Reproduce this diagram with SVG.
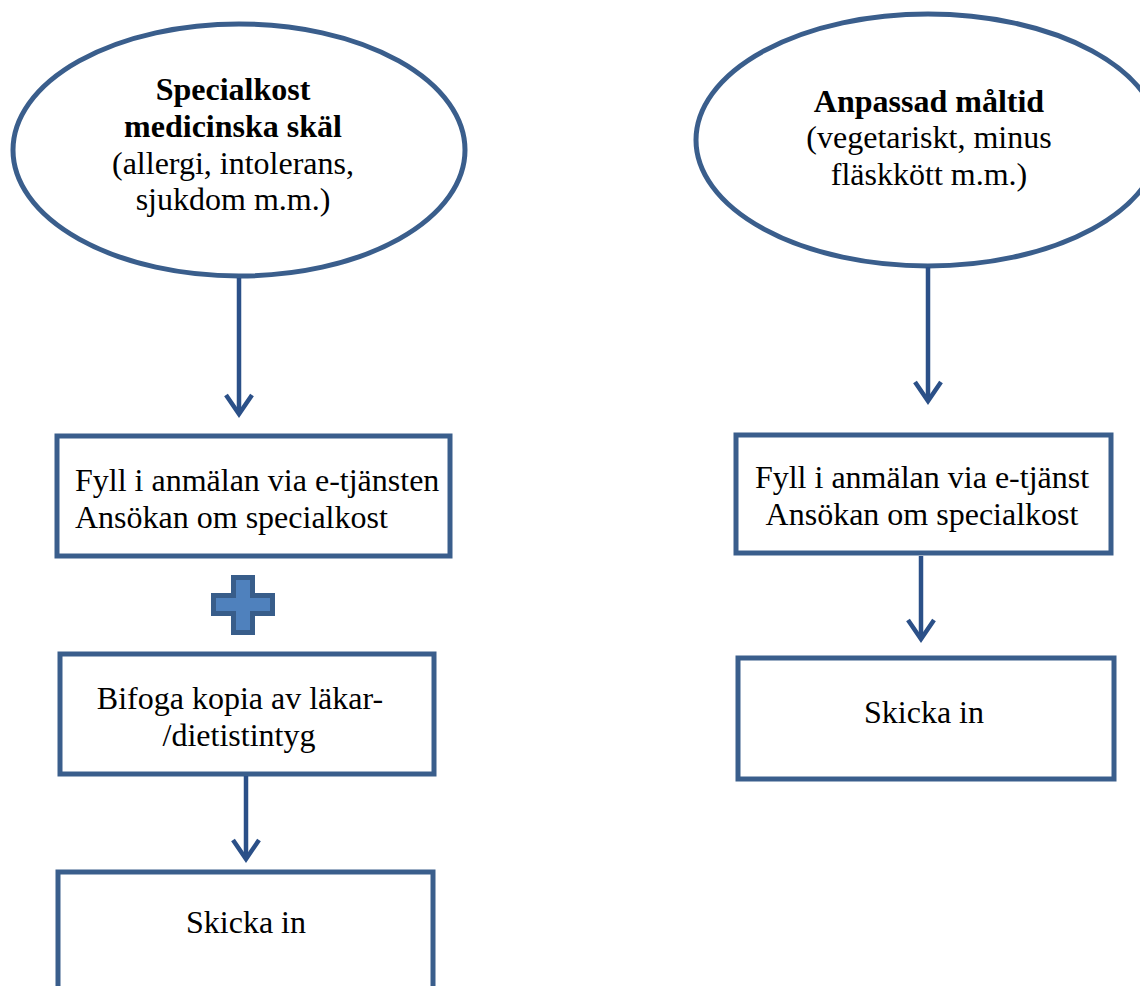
<svg xmlns="http://www.w3.org/2000/svg" width="1140" height="986" viewBox="0 0 1140 986">
<style>
.shape{fill:#fff;stroke:#3A5E8C;stroke-width:5}
.t{font-family:"Liberation Serif","Times New Roman",serif;font-size:32px;fill:#000}
.c{text-anchor:middle}
.b{font-weight:bold}
.conn line{stroke:#2B5088;stroke-width:4.5}
.conn path{fill:none;stroke:#2B5088;stroke-width:4.5;stroke-linejoin:miter;stroke-linecap:butt}
</style>
<rect width="1140" height="986" fill="#fff"/>
<g id="n-special">
<ellipse class="shape" cx="239" cy="150" rx="226" ry="126" stroke-width="4.5"/>
<text class="t c b" x="233" y="100">Specialkost</text>
<text class="t c b" x="233" y="137">medicinska skäl</text>
<text class="t c" x="233" y="174">(allergi, intolerans,</text>
<text class="t c" x="233" y="210">sjukdom m.m.)</text>
</g>
<g id="n-anpassad">
<ellipse class="shape" cx="928" cy="140" rx="232" ry="126" stroke-width="4.5"/>
<text class="t c b" x="929" y="112">Anpassad måltid</text>
<text class="t c" x="929" y="148">(vegetariskt, minus</text>
<text class="t c" x="929" y="185">fläskkött m.m.)</text>
</g>
<g id="n-fyll-left">
<rect class="shape" x="57" y="436" width="393" height="120"/>
<text class="t" x="75" y="491">Fyll i anmälan via e-tjänsten</text>
<text class="t" x="75" y="528">Ansökan om specialkost</text>
</g>
<g id="n-plus">
<path d="M233.5,577.5 H252.5 V595.5 H272.5 V613.5 H252.5 V632.5 H233.5 V613.5 H213.5 V595.5 H233.5 Z" fill="#4F81BD" stroke="#385D8A" stroke-width="5"/>
</g>
<g id="n-bifoga">
<rect class="shape" x="60" y="654" width="374" height="120"/>
<text class="t c" x="240" y="709">Bifoga kopia av läkar-</text>
<text class="t c" x="239" y="746">/dietistintyg</text>
</g>
<g id="n-skicka-left">
<rect class="shape" x="58" y="872" width="375" height="140"/>
<text class="t c" x="246" y="933">Skicka in</text>
</g>
<g id="n-fyll-right">
<rect class="shape" x="736" y="435" width="375" height="118"/>
<text class="t c" x="922" y="488">Fyll i anmälan via e-tjänst</text>
<text class="t c" x="922" y="525">Ansökan om specialkost</text>
</g>
<g id="n-skicka-right">
<rect class="shape" x="738" y="658" width="376" height="121"/>
<text class="t c" x="924" y="723">Skicka in</text>
</g>
<g id="connectors" class="conn">
<line x1="239" y1="278" x2="239" y2="414"/>
<path d="M226,395 L239,414 L252,395"/>
<line x1="928" y1="267" x2="928" y2="401"/>
<path d="M915,382 L928,401 L941,382"/>
<line x1="921" y1="556" x2="921" y2="639"/>
<path d="M908,620 L921,639 L934,620"/>
<line x1="246" y1="776" x2="246" y2="859"/>
<path d="M233,840 L246,859 L259,840"/>
</g>
</svg>
